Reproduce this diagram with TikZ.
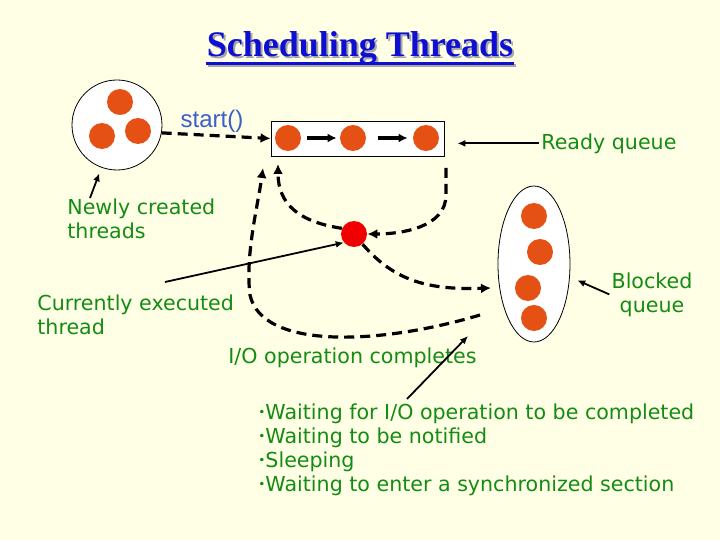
\documentclass[tikz,border=0pt]{standalone}
\usepackage{fontspec}
\setmainfont{DejaVu Sans}
\newfontfamily\serifbold{Liberation Serif}
\newfontfamily\arialish{Liberation Sans}
\usepackage{xcolor}
\usepackage{tikz}
\usetikzlibrary{arrows.meta,positioning,calc,shapes.geometric}
\definecolor{paper}{RGB}{255,255,229}
\definecolor{thread}{RGB}{229,80,20}
\definecolor{running}{RGB}{240,0,0}
\definecolor{lblgreen}{RGB}{20,140,20}
\definecolor{startblue}{RGB}{60,95,200}
\definecolor{titleblue}{RGB}{15,15,210}
\newcommand{\smallbul}{\raisebox{0.25ex}{\fontsize{6}{6}\selectfont\textbullet}}

\begin{document}
\begin{tikzpicture}[x=0.5pt, y=-0.5pt, font=\fontsize{10.3}{12}\selectfont,
  th/.style={circle, fill=thread, minimum size=13pt, inner sep=0pt},
  pool/.style={draw, line width=0.4pt, fill=white},
  lbl/.style={text=lblgreen, inner sep=1pt, align=left},
  flow/.style={-{Latex[length=5pt,width=5pt]}, line width=1.6pt, dash pattern=on 5pt off 3pt},
  hop/.style={-{Latex[length=4.5pt,width=4.5pt]}, line width=1.6pt},
  ptr/.style={-{Latex[length=4pt,width=3.5pt]}, line width=0.9pt},
  ttl/.style={inner sep=0pt, font=\serifbold\bfseries\fontsize{18}{20}\selectfont}]
\fill[paper] (0,0) rectangle (720,540);
\node[ttl, text=black!35] (ttlshadow) at (362,50) {Scheduling Threads};
\draw[black!35, line width=1.3pt] ($(ttlshadow.base west)+(0,7)$) -- ($(ttlshadow.base east)+(0,7)$);
\node[ttl, text=titleblue] (ttl) at (360,48) {Scheduling Threads};
\draw[titleblue, line width=1.3pt] ($(ttl.base west)+(0,7)$) -- ($(ttl.base east)+(0,7)$);
\node[pool, circle, minimum size=45pt] (newc) at (117,125) {};
\node[th] (n1) at (120,102) {};
\node[th] (n2) at (102,136) {};
\node[th] (n3) at (138,131) {};
\node[text=startblue, font=\arialish\fontsize{12}{14}\selectfont] (startlbl) at (212,121) {start()};
\node[pool, rectangle, minimum width=86.5pt, minimum height=17.5pt] (rq) at (357.5,138.5) {};
\node[th] (r1) at (288,138) {};
\node[th] (r2) at (353,138) {};
\node[th] (r3) at (426,138) {};
\node[th, fill=running] (run) at (354,234) {};
\node[pool, ellipse, minimum width=36pt, minimum height=78pt, inner sep=0pt] (bq) at (534,264) {};
\node[th] (b1) at (534,216) {};
\node[th] (b2) at (540,252) {};
\node[th] (b3) at (528,288) {};
\node[th] (b4) at (534,318) {};
\node[lbl, anchor=north west] (rqlbl) at (539,131) {Ready queue};
\node[lbl, anchor=north, align=center] (bqlbl) at (652,270) {Blocked\\queue};
\node[lbl, anchor=north west] (newlbl) at (65,196) {Newly created\\threads};
\node[lbl, anchor=north west] (curlbl) at (35,292) {Currently executed\\thread};
\node[lbl, anchor=north west] (iolbl) at (226,345) {I/O operation completes};
\node[lbl, anchor=north west] (waitlbl) at (256,401) {\smallbul Waiting for I/O operation to be completed\\\smallbul Waiting to be notified\\\smallbul Sleeping\\\smallbul Waiting to enter a synchronized section};
\coordinate (rqtop) at (278,164);
\coordinate (rqback) at (263,168);
\coordinate (rqout) at (446,168);
\coordinate (bqin) at (491,288);
\coordinate (bqout) at (480,315);
\coordinate (curtail) at (165,282);
\coordinate (iotail) at (407,399);
\coordinate (iohead) at (468,336);
\draw[flow] (newc.-10) -- (rq.west);
\draw[hop, shorten <=3pt, shorten >=1.5pt] (r1.east) -- (r2.west);
\draw[hop, shorten <=6pt, shorten >=2.5pt] (r2.east) -- (r3.west);
\draw[flow] (run.155) .. controls (300,222) and (278,205) .. (rqtop);
\draw[flow] (rqout) -- (446,195) .. controls (446,228) and (400,234) .. (run.east);
\draw[flow] (run.-50) .. controls (395,282) and (430,290) .. (bqin);
\draw[flow] (bqout) .. controls (380,345) and (262,350) .. (250,295) .. controls (245,255) and (258,205) .. (rqback);
\draw[ptr, shorten >=6.5pt] (rqlbl.west) -- (rqlbl.west -| rq.east);
\draw[ptr, shorten >=4pt] (bqlbl.west) -- (bq.-20);
\draw[ptr, shorten >=3pt] ($(newlbl.north west)+(25,2)$) -- (newc.250);
\draw[ptr] (curtail) -- (run.220);
\draw[ptr] (iotail) -- (iohead);
\end{tikzpicture}
\end{document}
